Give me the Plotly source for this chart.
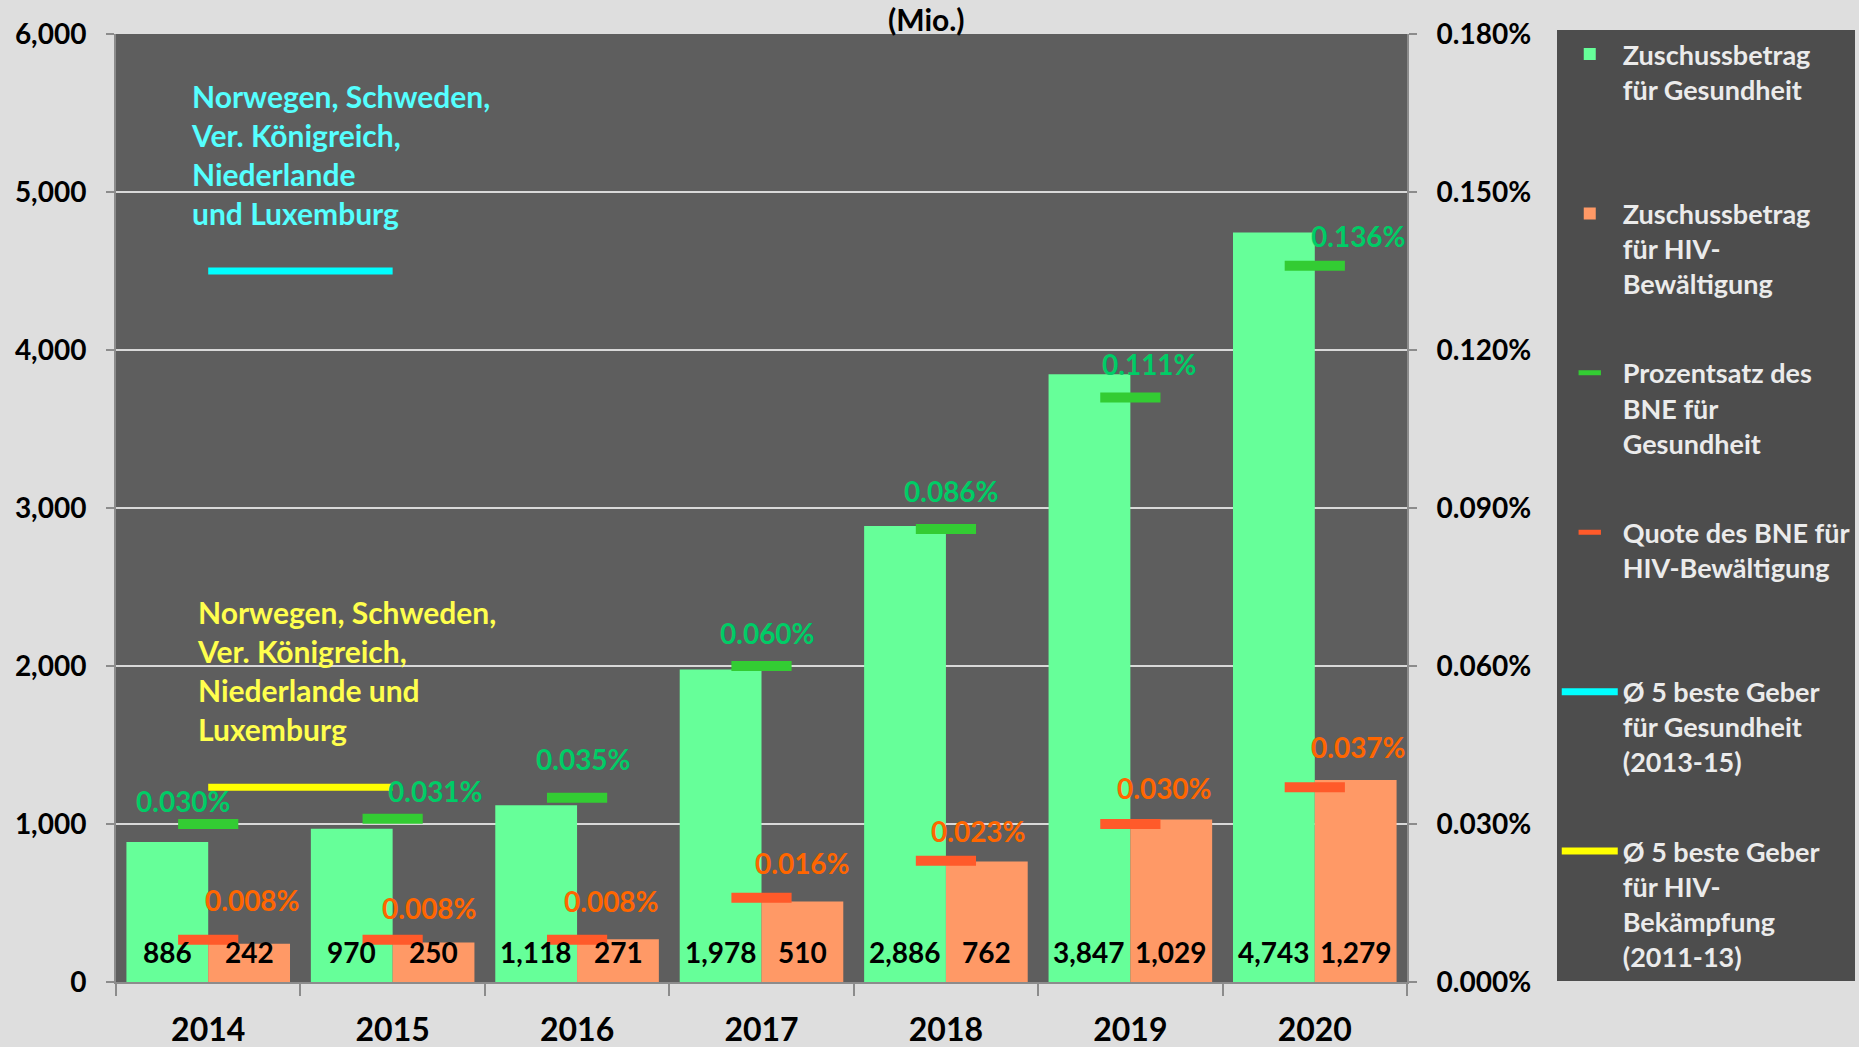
import plotly.graph_objects as go

# ---------------- data ----------------
years = ["2014", "2015", "2016", "2017", "2018", "2019", "2020"]
health_amount = [886, 970, 1118, 1978, 2886, 3847, 4743]          # Mio.
hiv_amount = [242, 250, 271, 510, 762, 1029, 1279]                # Mio.
health_gni_pct = [0.030, 0.031, 0.035, 0.060, 0.086, 0.111, 0.136]  # % of GNI
hiv_gni_pct = [0.008, 0.008, 0.008, 0.016, 0.023, 0.030, 0.037]     # % of GNI
top5_years = ["2014", "2015"]
top5_health_pct = [0.135, 0.135]
top5_hiv_pct = [0.037, 0.037]
left_tick_values = [0, 1000, 2000, 3000, 4000, 5000, 6000]
right_tick_values = [0.0, 0.03, 0.06, 0.09, 0.12, 0.15, 0.18]

legend_names = [
    "Zuschussbetrag<br>für Gesundheit",
    "Zuschussbetrag<br>für HIV-<br>Bewältigung",
    "Prozentsatz des<br>BNE für<br>Gesundheit",
    "Quote des BNE für<br>HIV-Bewältigung",
    "Ø 5 beste Geber<br>für Gesundheit<br>(2013-15)",
    "Ø 5 beste Geber<br>für HIV-<br>Bekämpfung<br>(2011-13)",
]
note_health = "Norwegen, Schweden,<br>Ver. Königreich,<br>Niederlande<br>und Luxemburg"
note_hiv = "Norwegen, Schweden,<br>Ver. Königreich,<br>Niederlande und<br>Luxemburg"

# ---------------- label placement (pixel offsets, layout only) ----------------
green_label_shift = [(-25, -23), (43, -28), (6, -39), (6, -33), (6, -38), (19, -33), (44, -30)]
orange_label_shift = [(44, -40), (37, -32), (34, -39), (41, -35), (33, -30), (34, -36), (44, -40)]

# ---------------- styles ----------------
FONT = "Lato"
C_GREEN_BAR = "#66FF99"
C_ORANGE_BAR = "#FF9966"
C_GREEN_DASH = "#33CC33"
C_ORANGE_DASH = "#FF5A2A"
C_GREEN_TXT = "#00CC66"
C_ORANGE_TXT = "#FF6600"
C_CYAN = "#00FFFF"
C_YELLOW = "#FFFF00"


def pad(name, n=4):
    lines = name.count("<br>") + 1
    return name + "<br> " * (n - lines)


fig = go.Figure()

fig.add_trace(go.Bar(
    x=years, y=health_amount, name=pad(legend_names[0]), legendgroup="g1",
    marker=dict(color=C_GREEN_BAR, line=dict(width=0)), yaxis="y",
))
fig.add_trace(go.Bar(
    x=years, y=hiv_amount, name=pad(legend_names[1]), legendgroup="g2",
    marker=dict(color=C_ORANGE_BAR, line=dict(width=0)), yaxis="y",
))
fig.add_trace(go.Scatter(
    x=years, y=health_gni_pct, name=pad(legend_names[2]), legendgroup="g3",
    mode="markers", yaxis="y2",
    marker=dict(symbol="line-ew", size=43, line=dict(width=10, color=C_GREEN_DASH)),
))
fig.add_trace(go.Scatter(
    x=years, y=hiv_gni_pct, name=pad(legend_names[3]), legendgroup="g4",
    mode="markers", yaxis="y2",
    marker=dict(symbol="line-ew", size=43, line=dict(width=10, color=C_ORANGE_DASH)),
))
fig.add_trace(go.Scatter(
    x=top5_years, y=top5_health_pct, name=pad(legend_names[4]), legendgroup="g5",
    mode="lines", yaxis="y2", line=dict(color=C_CYAN, width=7),
))
fig.add_trace(go.Scatter(
    x=top5_years, y=top5_hiv_pct, name=pad(legend_names[5]), legendgroup="g6",
    mode="lines", yaxis="y2", line=dict(color=C_YELLOW, width=7),
))

annotations = []
for i, yr in enumerate(years):
    # bar value labels at the bar base
    for val, xs in ((health_amount[i], -41), (hiv_amount[i], 41)):
        annotations.append(dict(
            x=i, y=0, xref="x", yref="y", text=f"{val:,}", showarrow=False,
            xshift=xs, yshift=30, yanchor="middle",
            font=dict(family=FONT, size=28, color="#000000", weight="bold"),
        ))
    dx, dy = green_label_shift[i]
    annotations.append(dict(
        x=i, y=health_gni_pct[i], xref="x", yref="y2",
        text=f"{health_gni_pct[i]:.3f}%", showarrow=False,
        xshift=dx, yshift=-dy, yanchor="middle",
        font=dict(family=FONT, size=28, color=C_GREEN_TXT, weight="bold"),
    ))
    dx, dy = orange_label_shift[i]
    annotations.append(dict(
        x=i, y=hiv_gni_pct[i], xref="x", yref="y2",
        text=f"{hiv_gni_pct[i]:.3f}%", showarrow=False,
        xshift=dx, yshift=-dy, yanchor="middle",
        font=dict(family=FONT, size=28, color=C_ORANGE_TXT, weight="bold"),
    ))

annotations.append(dict(
    x=0.0563, y=0.8727, xref="paper", yref="paper", text=note_health,
    showarrow=False, xanchor="left", yanchor="middle", align="left",
    font=dict(family=FONT, size=30, color="#55FFFF", weight="bold"),
))
annotations.append(dict(
    x=0.061, y=0.329, xref="paper", yref="paper", text=note_hiv,
    showarrow=False, xanchor="left", yanchor="middle", align="left",
    font=dict(family=FONT, size=30, color="#FFFF4D", weight="bold"),
))
annotations.append(dict(
    x=0.628, y=1.0, xref="paper", yref="paper", text="(Mio.)",
    showarrow=False, xanchor="center", yanchor="bottom", yshift=-5,
    font=dict(family=FONT, size=30, color="#000000", weight="bold"),
))

tick_font = dict(family=FONT, size=28, color="#000000", weight="bold")

fig.update_layout(
    width=1859, height=1047,
    margin=dict(l=116, r=452, t=34, b=65, pad=0, autoexpand=False),
    paper_bgcolor="#DEDEDE",
    plot_bgcolor="#5E5E5E",
    barmode="group", bargap=0.113, bargroupgap=0,
    font=dict(family=FONT),
    annotations=annotations,
    showlegend=True,
    legend=dict(
        x=1.116, y=1.0042, xanchor="left", yanchor="top",
        bgcolor="#4D4D4D", borderwidth=0,
        font=dict(family=FONT, size=27, color="#EBEBEB", weight="bold"),
        valign="top", tracegroupgap=16, itemwidth=56,
        maxheight=1000,
    ),
    xaxis=dict(
        type="category", range=[-0.5, 6.5], autorange=False, automargin=False,
        showgrid=False, showline=True, linecolor="#8C8C8C", linewidth=2,
        ticks="outside", tickson="boundaries", ticklen=12, tickcolor="#8C8C8C", tickwidth=2,
        tickfont=dict(family=FONT, size=32, color="#000000", weight="bold"),
        ticklabelstandoff=19, tickangle=0,
    ),
    yaxis=dict(
        range=[0, 6000], autorange=False, automargin=False, tickvals=left_tick_values,
        ticktext=[f"{v:,}" for v in left_tick_values],
        showgrid=True, gridcolor="#D9D9D9", gridwidth=2, zeroline=False,
        showline=True, linecolor="#8C8C8C", linewidth=2,
        ticks="outside", ticklen=8, tickcolor="#8C8C8C", tickwidth=2,
        tickfont=tick_font, ticklabelstandoff=14,
    ),
    yaxis2=dict(
        range=[0, 0.18], autorange=False, automargin=False, tickvals=right_tick_values,
        ticktext=[f"{v:.3f}%" for v in right_tick_values],
        overlaying="y", side="right", showgrid=False, zeroline=False,
        showline=True, linecolor="#8C8C8C", linewidth=2,
        ticks="outside", ticklen=8, tickcolor="#8C8C8C", tickwidth=2,
        tickfont=tick_font, ticklabelstandoff=14,
    ),
)

fig.write_html(
    "out.html",
    config={"displayModeBar": False},
    post_script="document.body.style.margin='0';document.body.style.background='#DEDEDE';",
)
